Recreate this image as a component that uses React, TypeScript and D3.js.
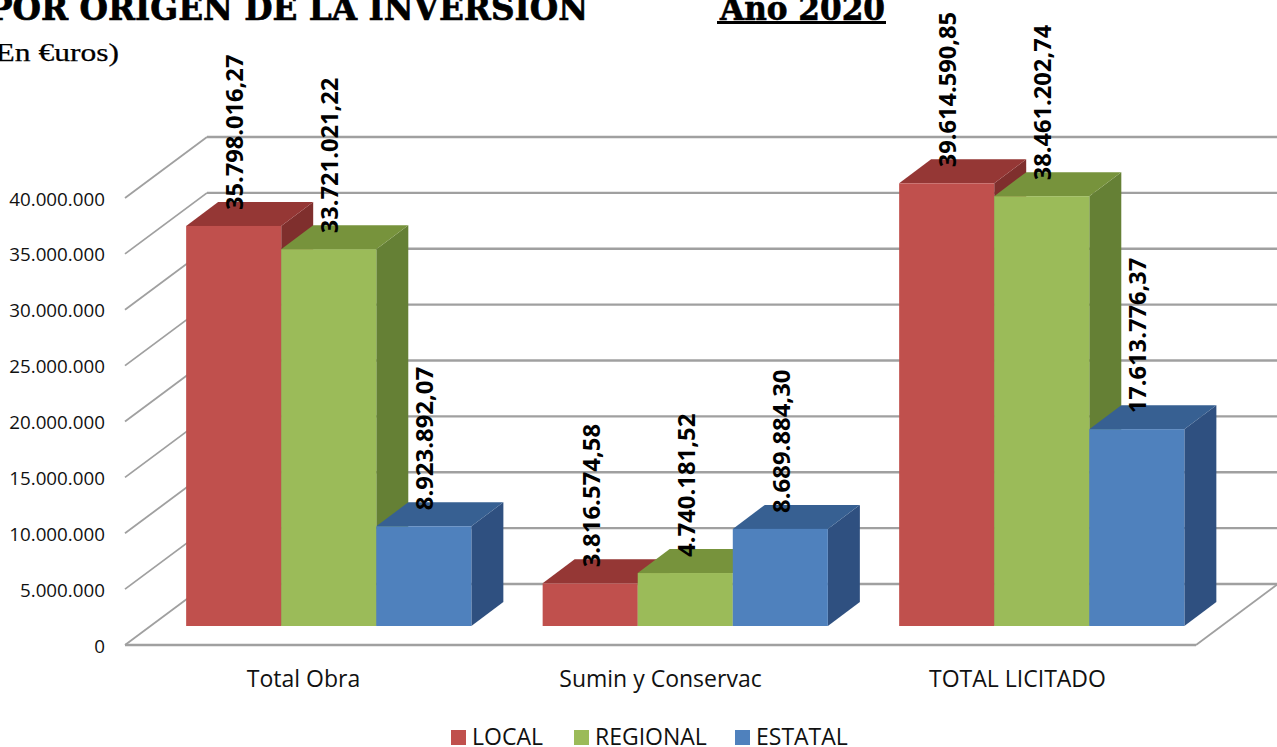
import React from "react";
import * as d3 from "d3";

const categories = ["Total Obra", "Sumin y Conservac", "TOTAL LICITADO"];
const seriesNames = ["LOCAL", "REGIONAL", "ESTATAL"];
const local = [35798016.27, 3816574.58, 39614590.85];
const regional = [33721021.22, 4740181.52, 38461202.74];
const estatal = [8923892.07, 8689884.3, 17613776.37];
const yTicks = [0, 5000000, 10000000, 15000000, 20000000, 25000000, 30000000, 35000000, 40000000];
const frontColors = ["#c0504d", "#9bbb59", "#4f81bd"];
const topColors = ["#953735", "#77933c", "#376092"];
const sideColors = ["#7f2f2d", "#658035", "#2f5080"];

const seriesValues = [local, regional, estatal];
const fontSans = "'Open Sans', 'Noto Sans', sans-serif";
const fontSerif = "'DejaVu Serif', serif";
const fontSerifLight = "'Liberation Serif', serif";
const fmtTick = (v: number) => d3.format(",")(v).replace(/,/g, ".");
const fmtVal = (v: number) => {
  const [a, b] = v.toFixed(2).split(".");
  return a.replace(/\B(?=(\d{3})+$)/g, ".") + "," + b;
};

export default function App() {
  const W = 1277, H = 747;
  // Wall / floor projection
  const wallDx = 82, wallDy = -61;
  const frontScale = d3.scaleLinear().domain([0, 40000000]).range([645, 198]);
  const barScale = d3.scaleLinear().domain([0, 40000000]).range([626, 179]);
  const plotBand = d3.scaleBand<string>().domain(categories).range([125, 1196]);
  const groupBand = d3.scaleBand<string>().domain(categories).range([150.5, 1220]).paddingInner(0.2).paddingOuter(0.1);
  const barBand = d3.scaleBand<string>().domain(seriesNames).range([0, groupBand.bandwidth()]);
  const depthX = 32, depthY = -24;
  const gridColor = "#a0a0a0";
  const legendX = [451, 574, 735];

  return (
    <svg width={W} height={H} viewBox={`0 0 ${W} ${H}`} style={{ position: "fixed", left: 0, top: 0, background: "#fff" }}>
      {/* Title */}
      <text x={-12} y={20} fontFamily={fontSerif} fontWeight={700} fontSize={34} stroke="#000" strokeWidth={0.7} textLength={600} lengthAdjust="spacingAndGlyphs">POR ORIGEN DE LA INVERSION</text>
      <text x={720} y={20} fontFamily={fontSerif} fontWeight={700} fontSize={34} stroke="#000" strokeWidth={0.7} textLength={165} lengthAdjust="spacingAndGlyphs">Año 2020</text>
      <rect x={717} y={21} width={169} height={3} fill="#000" />
      <text x={-15} y={61} fontFamily={fontSerifLight} fontSize={26} stroke="#000" strokeWidth={0.25} textLength={134} lengthAdjust="spacingAndGlyphs">(En €uros)</text>

      {/* Walls */}
      <g stroke={gridColor} fill="none">
        {yTicks.map((t) => (
          <g key={t}>
            <line x1={125} y1={frontScale(t)} x2={125 + wallDx} y2={frontScale(t) + wallDy} strokeWidth={1.8} />
            <line x1={125 + wallDx} y1={frontScale(t) + wallDy} x2={W} y2={frontScale(t) + wallDy} strokeWidth={2.4} />
          </g>
        ))}
        <line x1={125} y1={645} x2={1196} y2={645} strokeWidth={2.4} />
        <line x1={1196} y1={645} x2={1196 + wallDx} y2={645 + wallDy} strokeWidth={1.8} />
      </g>

      {/* Y labels */}
      {yTicks.map((t) => (
        <text key={t} x={105} y={frontScale(t) + 7.5} textAnchor="end" fontFamily={fontSans} fontSize={18.8} fill="#111">{fmtTick(t)}</text>
      ))}

      {/* Bars */}
      {categories.map((c, ci) => {
        const gx = groupBand(c)!;
        return (
          <g key={c}>
            {seriesNames.map((s, si) => {
              const v = seriesValues[si][ci];
              const x0 = gx + barBand(s)!;
              const x1 = x0 + barBand.bandwidth();
              const y0 = barScale(0);
              const y1 = barScale(v);
              const top = `M${x0},${y1}L${x0 + depthX},${y1 + depthY}L${x1 + depthX},${y1 + depthY}L${x1},${y1}Z`;
              const side = `M${x1},${y0}L${x1 + depthX},${y0 + depthY}L${x1 + depthX},${y1 + depthY}L${x1},${y1}Z`;
              return (
                <g key={s}>
                  <path d={side} fill={sideColors[si]} />
                  <path d={top} fill={topColors[si]} />
                  <rect x={x0} y={y1} width={x1 - x0} height={y0 - y1} fill={frontColors[si]} />
                </g>
              );
            })}
          </g>
        );
      })}

      {/* Value labels */}
      {categories.map((c, ci) =>
        seriesNames.map((s, si) => {
          const v = seriesValues[si][ci];
          const cx = groupBand(c)! + barBand(s)! + barBand.bandwidth() / 2;
          const yb = barScale(v) - 16;
          const label = fmtVal(v);
          return (
            <text key={s + c} transform={`translate(${cx + 9.5},${yb}) rotate(-90)`} fontFamily={fontSans} fontWeight={700} fontSize={23} fill="#000" textLength={label.length * 11.95} lengthAdjust="spacingAndGlyphs">{label}</text>
          );
        })
      )}

      {/* Category labels */}
      {categories.map((c) => (
        <text key={c} x={plotBand(c)! + plotBand.bandwidth() / 2} y={687} textAnchor="middle" fontFamily={fontSans} fontSize={23} fill="#111">{c}</text>
      ))}

      {/* Legend */}
      {seriesNames.map((s, i) => (
        <g key={s}>
          <rect x={legendX[i]} y={730} width={15} height={15} fill={frontColors[i]} />
          <text x={legendX[i] + 21} y={745} fontFamily={fontSans} fontSize={23} fill="#111">{s}</text>
        </g>
      ))}
    </svg>
  );
}
